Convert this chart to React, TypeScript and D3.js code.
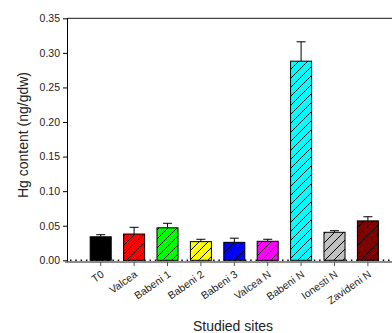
import React, { useEffect, useRef } from 'react';
import * as d3 from 'd3';

const sites = ['T0', 'Valcea', 'Babeni 1', 'Babeni 2', 'Babeni 3', 'Valcea N', 'Babeni N', 'Ionesti N', 'Zavideni N'];
const hgMean = [0.034, 0.038, 0.047, 0.027, 0.026, 0.0275, 0.288, 0.0405, 0.057];
const hgErr = [0.003, 0.0097, 0.0065, 0.0034, 0.006, 0.0029, 0.028, 0.0023, 0.006];
const barColors = ['#000000', '#ff0000', '#00ff00', '#ffff00', '#0000ff', '#ff00ff', '#00ffff', '#c0c0c0', '#800000'];
const yTicks = [0, 0.05, 0.1, 0.15, 0.2, 0.25, 0.3, 0.35];

const W = 392;
const H = 333;
const FONT = 'Arial, "Liberation Sans", sans-serif';

const App = () => {
  const svgRef = useRef<SVGSVGElement | null>(null);

  useEffect(() => {
    const svg = d3.select(svgRef.current);
    svg.selectAll('*').remove();

    const left = 67;
    const top = 18.3;
    const zeroY = 260.3;
    const axisY = 262;

    const x = d3.scaleBand<string>().domain(sites).range([84, 384.6]).paddingInner(0.37).paddingOuter(0.185);
    const y = d3.scaleLinear().domain([0, 0.35]).range([zeroY, top]);

    svg
      .append('defs')
      .append('pattern')
      .attr('id', 'hatch')
      .attr('patternUnits', 'userSpaceOnUse')
      .attr('width', 9)
      .attr('height', 9)
      .append('path')
      .attr('d', 'M-2,2 L2,-2 M0,9 L9,0 M7,11 L11,7')
      .attr('stroke', '#000')
      .attr('stroke-width', 1);

    // dotted zero line
    svg
      .append('line')
      .attr('x1', left + 3)
      .attr('x2', W)
      .attr('y1', y(0))
      .attr('y2', y(0))
      .attr('stroke', '#000')
      .attr('stroke-width', 1.5)
      .attr('stroke-dasharray', '1.5,3.8');

    // top frame line
    svg
      .append('line')
      .attr('x1', left)
      .attr('x2', W)
      .attr('y1', top)
      .attr('y2', top)
      .attr('stroke', '#444')
      .attr('stroke-width', 1.2);

    const groups = svg.append('g').selectAll('.bar').data(sites).enter().append('g').attr('class', 'bar');
    const cx = (d: string) => x(d)! + x.bandwidth() / 2;

    // error bars (upward only)
    groups
      .append('line')
      .attr('x1', cx)
      .attr('x2', cx)
      .attr('y1', (d, i) => y(hgMean[i]))
      .attr('y2', (d, i) => y(hgMean[i] + hgErr[i]))
      .attr('stroke', '#000')
      .attr('stroke-width', 1);
    groups
      .append('line')
      .attr('x1', (d) => cx(d) - 4.5)
      .attr('x2', (d) => cx(d) + 4.5)
      .attr('y1', (d, i) => y(hgMean[i] + hgErr[i]))
      .attr('y2', (d, i) => y(hgMean[i] + hgErr[i]))
      .attr('stroke', '#000')
      .attr('stroke-width', 1);

    groups
      .append('rect')
      .attr('x', (d) => x(d)!)
      .attr('y', (d, i) => y(hgMean[i]))
      .attr('width', x.bandwidth())
      .attr('height', (d, i) => y(0) - y(hgMean[i]))
      .attr('fill', (d, i) => barColors[i]);
    groups
      .append('rect')
      .attr('x', (d) => x(d)!)
      .attr('y', (d, i) => y(hgMean[i]))
      .attr('width', x.bandwidth())
      .attr('height', (d, i) => y(0) - y(hgMean[i]))
      .attr('fill', 'url(#hatch)')
      .attr('stroke', '#000')
      .attr('stroke-width', 1);

    // y axis
    const yAxis = svg
      .append('g')
      .attr('transform', `translate(${left},0)`)
      .call(d3.axisLeft(y).tickValues(yTicks).tickFormat(d3.format('.2f')).tickSize(4).tickPadding(3).tickSizeOuter(0));
    yAxis.select('.domain').attr('stroke', '#000').attr('d', `M0.5,${top}V${axisY}`);
    yAxis.selectAll('.tick line').attr('stroke', '#000');
    yAxis.selectAll('.tick text').attr('font-family', FONT).attr('font-size', 10.5).attr('fill', '#222');

    // x axis
    const xAxis = svg
      .append('g')
      .attr('transform', `translate(0,${axisY})`)
      .call(d3.axisBottom(x).tickSize(4).tickSizeOuter(0));
    xAxis.select('.domain').attr('stroke', '#666').attr('stroke-width', 1.6).attr('d', `M${left - 2},0H${W}`);
    xAxis.selectAll('.tick line').attr('stroke', '#555');
    xAxis
      .selectAll('.tick text')
      .attr('font-family', FONT)
      .attr('font-size', 10.5)
      .attr('fill', '#222')
      .attr('text-anchor', 'end')
      .attr('dy', null)
      .attr('y', 0)
      .attr('transform', 'translate(4,14) rotate(-35)');

    svg
      .append('text')
      .attr('x', 233)
      .attr('y', 331)
      .attr('text-anchor', 'middle')
      .attr('font-family', FONT)
      .attr('font-size', 14)
      .attr('fill', '#222')
      .text('Studied sites');

    svg
      .append('text')
      .attr('transform', 'translate(28,135) rotate(-90)')
      .attr('text-anchor', 'middle')
      .attr('font-family', FONT)
      .attr('font-size', 14)
      .attr('fill', '#222')
      .text('Hg content (ng/gdw)');
  }, []);

  return <svg ref={svgRef} width={W} height={H} style={{ position: 'absolute', left: 0, top: 0, background: '#fff' }} />;
};

export default App;
